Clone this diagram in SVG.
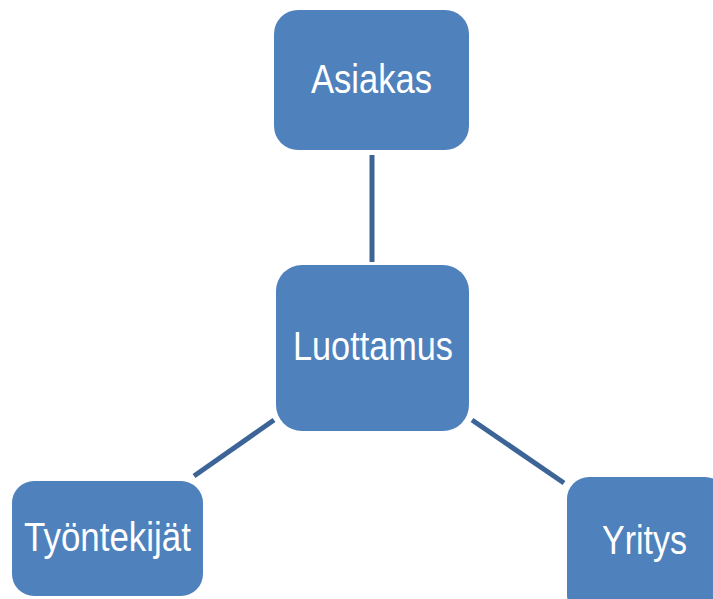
<svg xmlns="http://www.w3.org/2000/svg" width="713" height="599" viewBox="0 0 713 599">
<style>
.node{fill:#4F81BD;}
.lbl{fill:#FFFFFF;font-family:"Liberation Sans",Arial,sans-serif;font-size:41px;text-anchor:middle;}
.conn{stroke:#3C6497;stroke-width:5;fill:none;}
</style>
<rect width="713" height="599" fill="#FFFFFF"/>
<g id="connectors">
<line class="conn" x1="372" y1="155" x2="372" y2="262"/>
<line class="conn" x1="274" y1="420" x2="194" y2="476"/>
<line class="conn" x1="472" y1="420" x2="564" y2="483"/>
</g>
<g id="asiakas">
<rect class="node" x="274" y="10" width="195" height="140" rx="24"/>
<text class="lbl" x="371.5" y="93" textLength="121" lengthAdjust="spacingAndGlyphs">Asiakas</text>
</g>
<g id="luottamus">
<rect class="node" x="276" y="265" width="193" height="166" rx="26"/>
<text class="lbl" x="373" y="360" textLength="160" lengthAdjust="spacingAndGlyphs">Luottamus</text>
</g>
<g id="tyontekijat">
<rect class="node" x="12" y="481" width="191" height="115" rx="22"/>
<text class="lbl" x="107.5" y="551" textLength="167" lengthAdjust="spacingAndGlyphs">Työntekijät</text>
</g>
<g id="yritys">
<rect class="node" x="567" y="477" width="160" height="140" rx="22"/>
<text class="lbl" x="644.5" y="554" textLength="85" lengthAdjust="spacingAndGlyphs">Yritys</text>
</g>
</svg>
